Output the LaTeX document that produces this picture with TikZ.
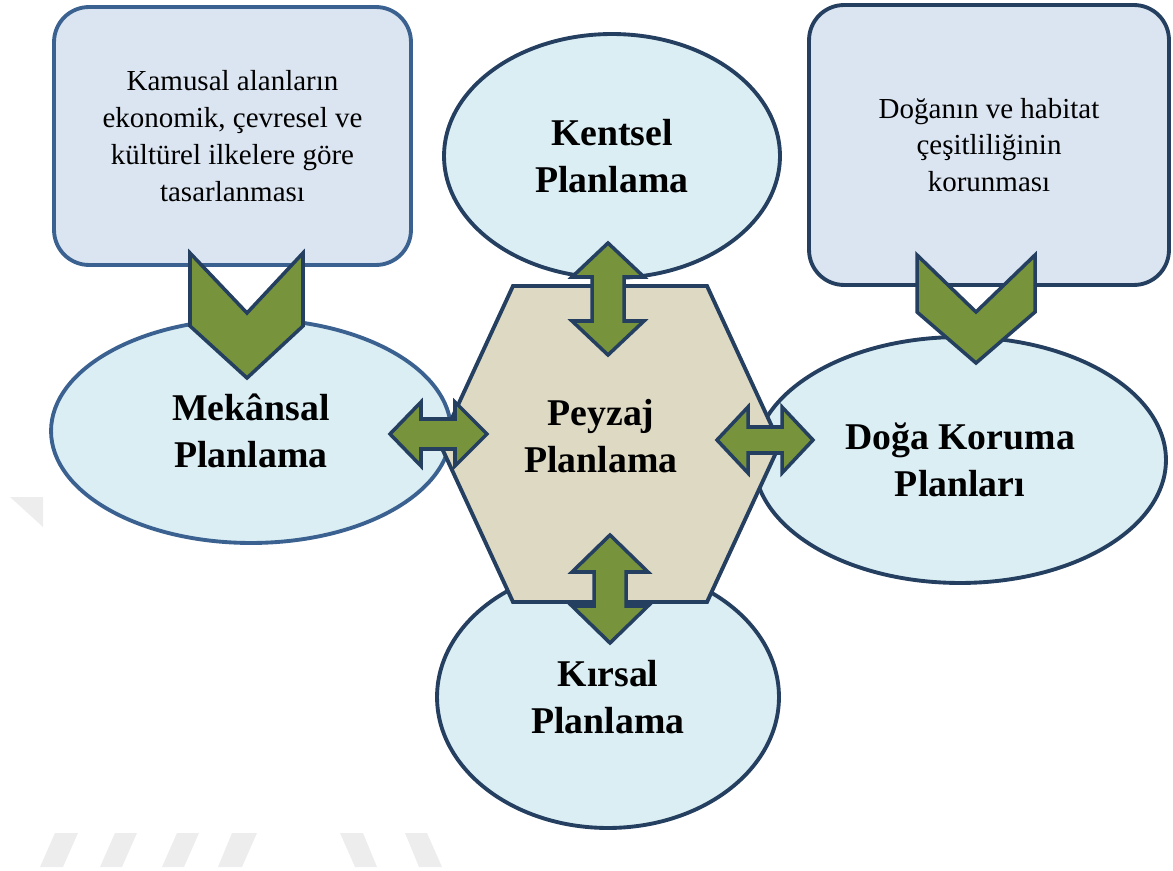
\documentclass[tikz,border=0pt]{standalone}
\usepackage{fontspec}
\setmainfont{Liberation Serif}
\usepackage{xcolor}
\usepackage{tikz}
\usetikzlibrary{shapes.geometric}
\definecolor{B0}{HTML}{DBE5F1}
\definecolor{E0}{HTML}{DBEEF4}
\definecolor{H0}{HTML}{DDD9C3}
\definecolor{G0}{HTML}{77933C}
\definecolor{L0}{HTML}{243F60}
\definecolor{L1}{HTML}{3B6190}
\definecolor{W0}{HTML}{EDEDED}

\begin{document}
\begin{tikzpicture}[x=0.02cm, y=-0.02cm,
  infobox/.style={draw=L0, line width=2.2pt, fill=B0, rounded corners=0.7cm, inner sep=0pt, align=center, font=\fontsize{16.5}{21}\selectfont},
  plan/.style={ellipse, draw=L0, line width=2.2pt, fill=E0, inner sep=0pt, align=center, font=\fontsize{21.5}{26.5}\selectfont\bfseries},
  blockarrow/.style={draw=L0, line width=2pt, fill=G0, line join=miter}]%
\useasboundingbox (0,0) rectangle (1173,871);%
% faint marks
\fill[W0] (40,867) -- (55,833) -- (78,833) -- (63,867) -- cycle;%
\fill[W0] (100,867) -- (115,833) -- (137,833) -- (122,867) -- cycle;%
\fill[W0] (162,867) -- (177,833) -- (199,833) -- (184,867) -- cycle;%
\fill[W0] (218,867) -- (232,833) -- (257,833) -- (242,867) -- cycle;%
\fill[W0] (340,833) -- (363,833) -- (377,867) -- (355,867) -- cycle;%
\fill[W0] (405,833) -- (427,833) -- (442,867) -- (419,867) -- cycle;%
\fill[W0] (10,497) -- (43,497) -- (43,527) -- cycle;%
% boxes
\node[infobox, draw=L1, minimum width=7.14cm, minimum height=5.16cm] (kamusal) at (232.5,136) {Kamusal alanların\\ekonomik, çevresel ve\\kültürel ilkelere göre\\tasarlanması};%
\node[infobox, minimum width=7.2cm, minimum height=5.6cm] (dogabox) at (989,145) {Doğanın ve habitat\\çeşitliliğinin\\korunması};%
% plans
\node[plan, minimum width=6.72cm, minimum height=4.88cm] (kentsel) at (612,156) {Kentsel\\Planlama};%
\node[plan, draw=L1, minimum width=8cm, minimum height=4.48cm] (mekansal) at (251,431) {Mekânsal\\Planlama};%
\node[plan, minimum width=8.24cm, minimum height=4.92cm] (doga) at (960,460) {Doğa Koruma\\Planları};%
\node[plan, minimum width=6.84cm, minimum height=5.24cm] (kirsal) at (608,697) {Kırsal\\Planlama};%
% centre
\draw[draw=L0, line width=2.2pt, fill=H0, line join=miter] (513,286) -- (707,286) -- (780,444) -- (707,602) -- (513,602) -- (440,444) -- cycle;%
\node[align=center, font=\fontsize{21.5}{26.5}\selectfont\bfseries] (peyzaj) at (601,436) {Peyzaj\\Planlama};%
% chevrons
\draw[blockarrow] (190,253) -- (247,313) -- (303,253) -- (303,326) -- (247,378) -- (190,326) -- cycle;%
\draw[blockarrow] (917,255) -- (976,312) -- (1035,255) -- (1035,312) -- (976,363) -- (917,312) -- cycle;%
% double arrows
\draw[blockarrow] (608,243) -- (644,277) -- (624,277) -- (624,321) -- (644,321) -- (608,355) -- (572,321) -- (592,321) -- (592,277) -- (572,277) -- cycle;%
\draw[blockarrow] (610,535) -- (648,572) -- (626,572) -- (626,606) -- (648,606) -- (610,643) -- (572,606) -- (594,606) -- (594,572) -- (572,572) -- cycle;%
\draw[blockarrow] (717,440) -- (748,407) -- (748,427) -- (782,427) -- (782,407) -- (813,440) -- (782,473) -- (782,453) -- (748,453) -- (748,473) -- cycle;%
\draw[blockarrow] (390,434) -- (421,402) -- (421,419) -- (455,419) -- (455,402) -- (487,434) -- (455,466) -- (455,449) -- (421,449) -- (421,466) -- cycle;%
\end{tikzpicture}
\end{document}
